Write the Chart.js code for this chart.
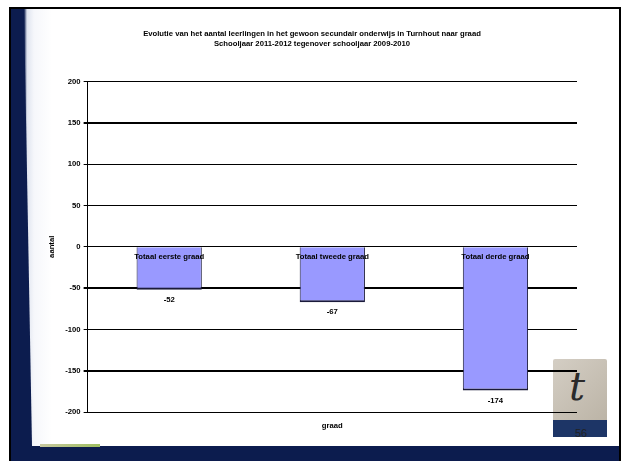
<!DOCTYPE html>
<html>
<head>
<meta charset="utf-8">
<script src="https://cdn.jsdelivr.net/npm/chart.js@4/dist/chart.umd.min.js"></script>
<style>
  html, body { margin: 0; padding: 0; background: #fff; }
  #page { position: relative; width: 623px; height: 461px; overflow: hidden; }
  .frame { position: absolute; left: 9px; top: 7px; width: 612px; height: 454px;
           background: #0c1c4e; border-top: 2px solid #000; border-left: 2px solid #000; border-right: 2px solid #000; box-sizing: border-box; }
  .slide { position: absolute; left: 12px; top: 9px; width: 607px; height: 437px;
           background: linear-gradient(to right, #0c1c4e 0px, #0c1c4e 12px, #dfe4ef 15px, #f6f7fb 22px, #fff 40px, #fff 100%);
           clip-path: polygon(12px 0, 100% 0, 100% 100%, 20px 100%); }
  .strip { position: absolute; left: 40px; top: 444px; width: 60px; height: 3px;
           background: linear-gradient(to right, #c8c8a0, #9fbf60); }
  .logo { position: absolute; left: 553px; top: 359px; width: 54px; height: 78px;
          background: linear-gradient(135deg, #d4cec4, #b8b0a2); border-radius: 2px; }
  .logo .band { position: absolute; left: 0; bottom: 0; width: 100%; height: 17px; background: #1d3566; }
  .logo .glyph { position: absolute; left: 16px; top: 4px; font: italic 40px "DejaVu Serif", serif; color: #2a2a2a; }
  .pagenr { position: absolute; left: 575px; top: 427px; font: 11px "Liberation Sans", sans-serif; color: #222; }
  #wrap { position: absolute; left: 0; top: 0; width: 623px; height: 461px; }
</style>
</head>
<body>
<div id="page">
  <div class="frame"></div>
  <div class="slide"></div>
  <div class="strip"></div>
  <div class="logo"><div class="glyph">t</div><div class="band"></div></div>
  <div class="pagenr">56</div>
  <div id="wrap"><canvas id="chart"></canvas></div>
</div>
<script>
  // gegevens
  const categories = ["Totaal eerste graad", "Totaal tweede graad", "Totaal derde graad"];
  const values = [-52, -67, -174];
  const yTicks = [200, 150, 100, 50, 0, -50, -100, -150, -200];

  const titleLines = [
    "Evolutie van het aantal leerlingen in het gewoon secundair onderwijs in Turnhout naar graad",
    "Schooljaar 2011-2012 tegenover schooljaar 2009-2010",
  ];

  const boldFont = { family: "'Liberation Sans', Arial, sans-serif", size: 7.7, weight: "bold" };

  // waarden onder de staven + titel van de x-as
  const extraText = {
    id: "extraText",
    afterDatasetsDraw(chart) {
      const ctx = chart.ctx;
      const meta = chart.getDatasetMeta(0);
      ctx.save();
      ctx.font = "bold 7.7px 'Liberation Sans', Arial, sans-serif";
      ctx.fillStyle = "#000";
      ctx.textAlign = "center";
      ctx.textBaseline = "middle";
      meta.data.forEach((bar, i) => {
        ctx.fillText(String(values[i]), bar.x, bar.y + 10);
      });
      const area = chart.chartArea;
      ctx.fillText("graad", (area.left + area.right) / 2, area.bottom + 14);
      ctx.restore();
    },
  };

  const ctx = document.getElementById("chart");

  new Chart(ctx, {
    type: "bar",
    data: {
      labels: categories,
      datasets: [
        {
          data: values,
          backgroundColor: "#9999ff",
          borderColor: "#1a1a3a",
          borderWidth: { left: 1, right: 1, bottom: 2, top: 0 },
          borderSkipped: false,
          barPercentage: 0.4,
          categoryPercentage: 1,
        },
      ],
    },
    options: {
      responsive: true,
      maintainAspectRatio: false,
      animation: false,
      layout: {
        padding: { left: 47, right: 46, top: 28, bottom: 49 },
      },
      plugins: {
        legend: { display: false },
        tooltip: { enabled: false },
        title: {
          display: true,
          text: titleLines,
          color: "#000",
          font: { ...boldFont, lineHeight: 1.4 },
          padding: { top: 0, bottom: 32 },
        },
      },
      scales: {
        x: {
          position: { y: 0 },
          grid: { display: false, tickLength: 0 },
          border: { display: false },
          ticks: {
            color: "#000",
            font: boldFont,
            padding: 5,
            z: 1,
            maxRotation: 0,
          },
        },
        y: {
          min: -200,
          max: 200,
          afterBuildTicks(scale) {
            scale.ticks = yTicks.map((v) => ({ value: v }));
          },
          grid: {
            color: "#000",
            lineWidth: (c) => ([150, -50, -150].includes(c.tick && c.tick.value) ? 2 : 1),
            tickLength: 4,
          },
          border: { display: true, color: "#000", width: 1 },
          ticks: {
            color: "#000",
            font: boldFont,
            padding: 3,
          },
          title: {
            display: true,
            text: "aantal",
            color: "#000",
            font: boldFont,
            padding: { top: 0, bottom: 6 },
          },
        },
      },
    },
    plugins: [extraText],
  });
</script>
</body>
</html>
